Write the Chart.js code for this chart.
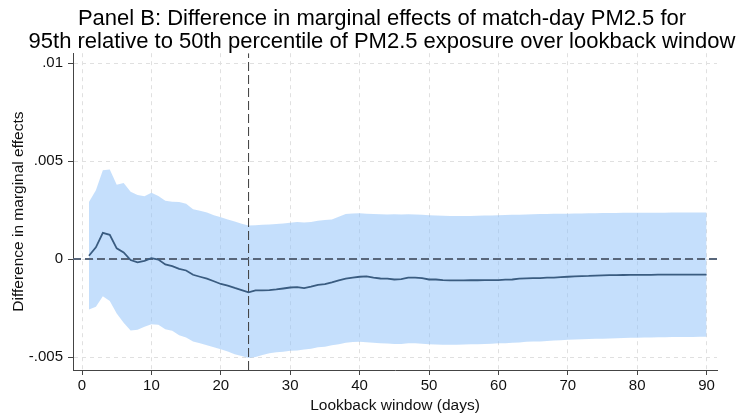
<!DOCTYPE html>
<html>
<head>
<meta charset="utf-8">
<script src="https://cdn.jsdelivr.net/npm/chart.js@4"></script>
<style>
  html, body { margin: 0; padding: 0; background: #fff; overflow: hidden; }
  #wrap { width: 736px; height: 415px; overflow: hidden; }
</style>
</head>
<body>
<div id="wrap"><canvas id="diffChart" width="764" height="415"></canvas></div>
<script>
// lookback window, days
const days = [1, 2, 3, 4, 5, 6, 7, 8, 9, 10, 11, 12, 13, 14, 15, 16, 17, 18, 19, 20,
    21, 22, 23, 24, 25, 26, 27, 28, 29, 30, 31, 32, 33, 34, 35, 36, 37, 38, 39, 40,
    41, 42, 43, 44, 45, 46, 47, 48, 49, 50, 51, 52, 53, 54, 55, 56, 57, 58, 59, 60,
    61, 62, 63, 64, 65, 66, 67, 68, 69, 70, 71, 72, 73, 74, 75, 76, 77, 78, 79, 80,
    81, 82, 83, 84, 85, 86, 87, 88, 89, 90];

// point estimate of the difference
const estimate = [0.00017, 0.0006, 0.00134, 0.00124, 0.00055, 0.00034, -0.00005, -0.00017, -0.00009, 0.00005,
    -0.00002, -0.00027, -0.00036, -0.0005, -0.00058, -0.0008, -0.0009, -0.001, -0.00113, -0.00127,
    -0.00135, -0.00147, -0.00158, -0.0017, -0.0016, -0.0016, -0.00158, -0.00155, -0.0015, -0.00145,
    -0.00143, -0.00148, -0.00141, -0.00131, -0.00128, -0.00119, -0.00109, -0.001, -0.00094, -0.0009,
    -0.00088, -0.00094, -0.00099, -0.001, -0.00104, -0.00102, -0.00095, -0.00094, -0.00097, -0.00104,
    -0.00104, -0.00107, -0.00109, -0.00109, -0.00109, -0.00108, -0.00108, -0.00107, -0.00107, -0.00107,
    -0.00105, -0.00104, -0.001, -0.00098, -0.00097, -0.00097, -0.00095, -0.00094, -0.00092, -0.0009,
    -0.00088, -0.00087, -0.00086, -0.00084, -0.00083, -0.00082, -0.00082, -0.00081, -0.0008, -0.0008,
    -0.0008, -0.0008, -0.00079, -0.00079, -0.00079, -0.00079, -0.00079, -0.00079, -0.00079, -0.00079];

// 95% confidence interval
const ciUpper = [0.00292, 0.00352, 0.00454, 0.00457, 0.0038, 0.00388, 0.00344, 0.00327, 0.00321, 0.00339,
    0.00322, 0.00298, 0.00293, 0.00292, 0.00282, 0.00255, 0.00247, 0.00238, 0.00224, 0.00214,
    0.00202, 0.00192, 0.0018, 0.00172, 0.00173, 0.00175, 0.00177, 0.00179, 0.00182, 0.00185,
    0.00189, 0.00187, 0.0019, 0.00196, 0.00199, 0.00202, 0.00216, 0.0023, 0.00233, 0.00234,
    0.00232, 0.0023, 0.00229, 0.00228, 0.00229, 0.00228, 0.00229, 0.00228, 0.00226, 0.00224,
    0.00222, 0.00221, 0.0022, 0.0022, 0.0022, 0.0022, 0.00221, 0.00222, 0.00223, 0.00224,
    0.00225, 0.00226, 0.00227, 0.00228, 0.00229, 0.0023, 0.0023, 0.00231, 0.00232, 0.00232,
    0.00233, 0.00233, 0.00234, 0.00234, 0.00235, 0.00235, 0.00235, 0.00236, 0.00236, 0.00236,
    0.00237, 0.00237, 0.00237, 0.00237, 0.00238, 0.00238, 0.00238, 0.00238, 0.00238, 0.00238];

const ciLower = [-0.00257, -0.00243, -0.00189, -0.00214, -0.00277, -0.00325, -0.00364, -0.0036, -0.00345, -0.00332,
    -0.00335, -0.00358, -0.00366, -0.00388, -0.004, -0.0042, -0.0043, -0.0044, -0.0045, -0.0046,
    -0.00472, -0.00485, -0.00495, -0.00505, -0.005, -0.0049, -0.00481, -0.00475, -0.00473, -0.00468,
    -0.00466, -0.00461, -0.00457, -0.0045, -0.00447, -0.0044, -0.00434, -0.00427, -0.00423, -0.00422,
    -0.00424, -0.00427, -0.0043, -0.00431, -0.00433, -0.00433, -0.0043, -0.0043, -0.00432, -0.00434,
    -0.00436, -0.00437, -0.00437, -0.00437, -0.00436, -0.00435, -0.00434, -0.00433, -0.00432, -0.0043,
    -0.00429, -0.00427, -0.00425, -0.00422, -0.00421, -0.0042, -0.00418, -0.00416, -0.00414, -0.00412,
    -0.0041, -0.00409, -0.00408, -0.00407, -0.00406, -0.00405, -0.00404, -0.00403, -0.00402, -0.00401,
    -0.004, -0.004, -0.00399, -0.00399, -0.00398, -0.00398, -0.00397, -0.00397, -0.00396, -0.00396];

const xTicks = [0, 10, 20, 30, 40, 50, 60, 70, 80, 90];
const yTicks = [-0.005, 0, 0.005, 0.01];
const yTickLabels = ['-.005', '0', '.005', '.01'];

const refDay = 24;

const xMin = -1.3, xMax = 91.5;
const yMin = -0.00566, yMax = 0.01051;

const FONT = 'Liberation Sans, Arial, Helvetica, sans-serif';

function pts(values) {
    return days.map((d, i) => ({ x: d, y: values[i] }));
}

const gridOpts = {
    color: '#e0e0e0',
    tickColor: '#444',
    tickLength: 5,
    tickBorderDash: []
};

const ctx = document.getElementById('diffChart').getContext('2d');
new Chart(ctx, {
    type: 'line',
    data: {
        datasets: [
            {
                // estimate
                data: pts(estimate),
                borderColor: 'rgb(58, 92, 128)',
                borderWidth: 1.8,
                pointRadius: 0,
                fill: false,
                order: 1
            },
            {
                // horizontal reference at zero
                data: [{ x: xMin, y: 0 }, { x: xMax, y: 0 }],
                borderColor: 'rgb(88, 102, 122)',
                borderWidth: 2,
                borderDash: [8, 4],
                pointRadius: 0,
                fill: false,
                order: 2
            },
            {
                // vertical reference line
                data: [{ x: refDay, y: yMin }, { x: refDay, y: yMax }],
                borderColor: 'rgb(60, 60, 60)',
                borderWidth: 1,
                borderDash: [9, 4],
                pointRadius: 0,
                fill: false,
                order: 3
            },
            {
                data: pts(ciUpper),
                borderWidth: 0,
                borderColor: 'rgba(0,0,0,0)',
                backgroundColor: 'rgba(140, 191, 250, 0.5)',
                pointRadius: 0,
                fill: '+1',
                order: 10
            },
            {
                data: pts(ciLower),
                borderWidth: 0,
                borderColor: 'rgba(0,0,0,0)',
                pointRadius: 0,
                fill: false,
                order: 11
            }
        ]
    },
    options: {
        responsive: false,
        animation: false,
        layout: { padding: 0 },
        plugins: {
            legend: { display: false },
            tooltip: { enabled: false },
            title: {
                display: true,
                text: ['Panel B: Difference in marginal effects of match-day PM2.5 for',
                       '95th relative to 50th percentile of PM2.5 exposure over lookback window'],
                color: '#000',
                font: { family: FONT, size: 22, weight: 'normal', lineHeight: 1.05 },
                padding: { top: 7, bottom: 0 }
            }
        },
        scales: {
            x: {
                type: 'linear',
                min: xMin,
                max: xMax,
                afterBuildTicks: s => { s.ticks = xTicks.map(v => ({ value: v })); },
                afterFit: s => { s.height = 45; s.paddingRight = 47; },
                grid: gridOpts,
                border: { display: true, color: '#444', width: 1, dash: [4, 4] },
                ticks: {
                    color: '#111',
                    font: { family: FONT, size: 15 },
                    padding: 2,
                    maxRotation: 0,
                    callback: v => String(v)
                },
                title: {
                    display: true,
                    text: 'Lookback window (days)',
                    color: '#111',
                    font: { family: FONT, size: 15.5 },
                    padding: { top: 0, bottom: 0 }
                }
            },
            y: {
                min: yMin,
                max: yMax,
                afterBuildTicks: s => { s.ticks = yTicks.map(v => ({ value: v })); },
                afterFit: s => { s.width = 73; },
                grid: gridOpts,
                border: { display: true, color: '#444', width: 1, dash: [4, 4] },
                ticks: {
                    color: '#111',
                    font: { family: FONT, size: 15 },
                    padding: 5,
                    callback: v => yTickLabels[yTicks.indexOf(v)]
                },
                title: {
                    display: true,
                    text: 'Difference in marginal effects',
                    color: '#111',
                    font: { family: FONT, size: 15.5 },
                    padding: { top: 9, bottom: 0 }
                }
            }
        }
    }
});
</script>
</body>
</html>
